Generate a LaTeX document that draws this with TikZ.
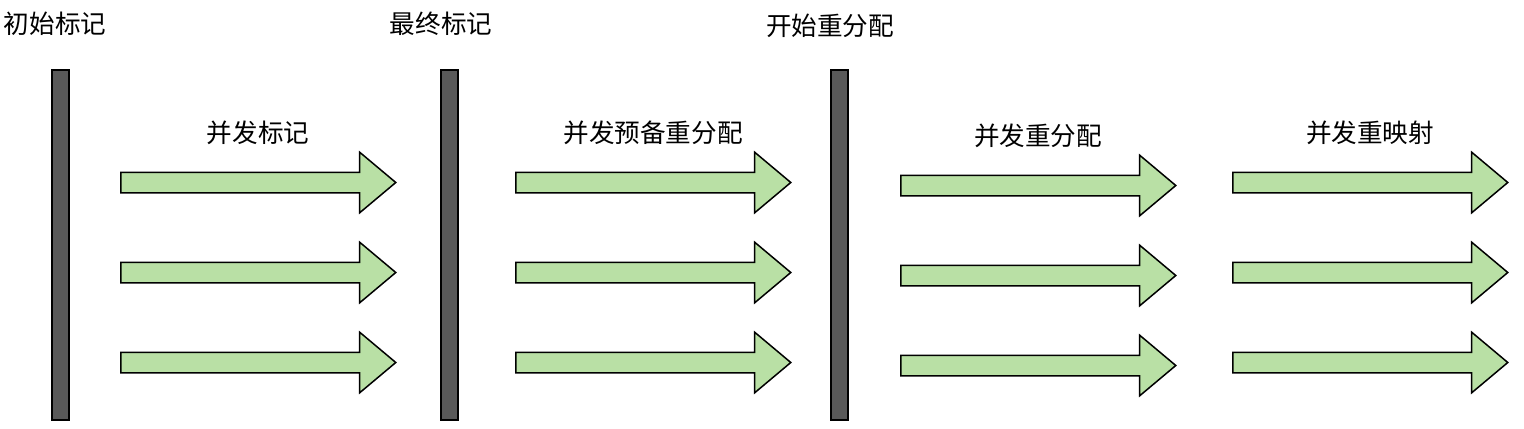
\documentclass[tikz,border=0pt]{standalone}
\usepackage{fontspec}
\newfontfamily\cjk{Noto Sans CJK SC}
\usetikzlibrary{shapes.arrows,positioning}
\definecolor{bargray}{HTML}{595959}
\definecolor{flowgreen}{HTML}{B9E0A5}
\tikzset{
  phasebar/.style={draw,line width=1pt,fill=bargray,rectangle,inner sep=0pt,minimum width=8.5pt,minimum height=175pt},
  flow/.style={single arrow,draw,line width=0.75pt,fill=flowgreen,inner xsep=0pt,inner ysep=4.75pt,minimum height=137.5pt,single arrow head extend=10pt,single arrow tip angle=80,anchor=west},
  lbl/.style={font=\cjk\fontsize{12.8}{15}\selectfont,inner sep=0pt},
  phaselbl/.style={lbl,xshift=3pt}
}
\begin{document}
\begin{tikzpicture}[x=0.5pt,y=-0.5pt]
  \useasboundingbox (0,0) rectangle (1524,428);

  % pause points
  \node[phasebar] (initbar) at (60,245) {};
  \node[phasebar] (finalbar) at (449.5,245) {};
  \node[phasebar] (relocbar) at (839,245) {};

  \node[lbl] (initlbl) at (55,24) {初始标记};
  \node[lbl] (finallbl) at (441,24) {最终标记};
  \node[lbl] (reloclbl) at (830,26) {开始重分配};

  % concurrent phases, three threads each
  \foreach \n/\x/\dy in {mark/120/0,prep/515/0,reloc/900/3,remap/1232/0}
    \foreach \y [count=\i] in {182.5,272.5,362.5}
      \node[flow] (\n\i) at (\x,\y+\dy) {};

  \node[phaselbl, above=13pt of mark1] (marklbl) {并发标记};
  \node[phaselbl, above=13pt of prep1] (preplbl) {并发预备重分配};
  \node[phaselbl, above=13pt of reloc1] (reloclbl2) {并发重分配};
  \node[phaselbl, above=13pt of remap1] (remaplbl) {并发重映射};
\end{tikzpicture}
\end{document}
